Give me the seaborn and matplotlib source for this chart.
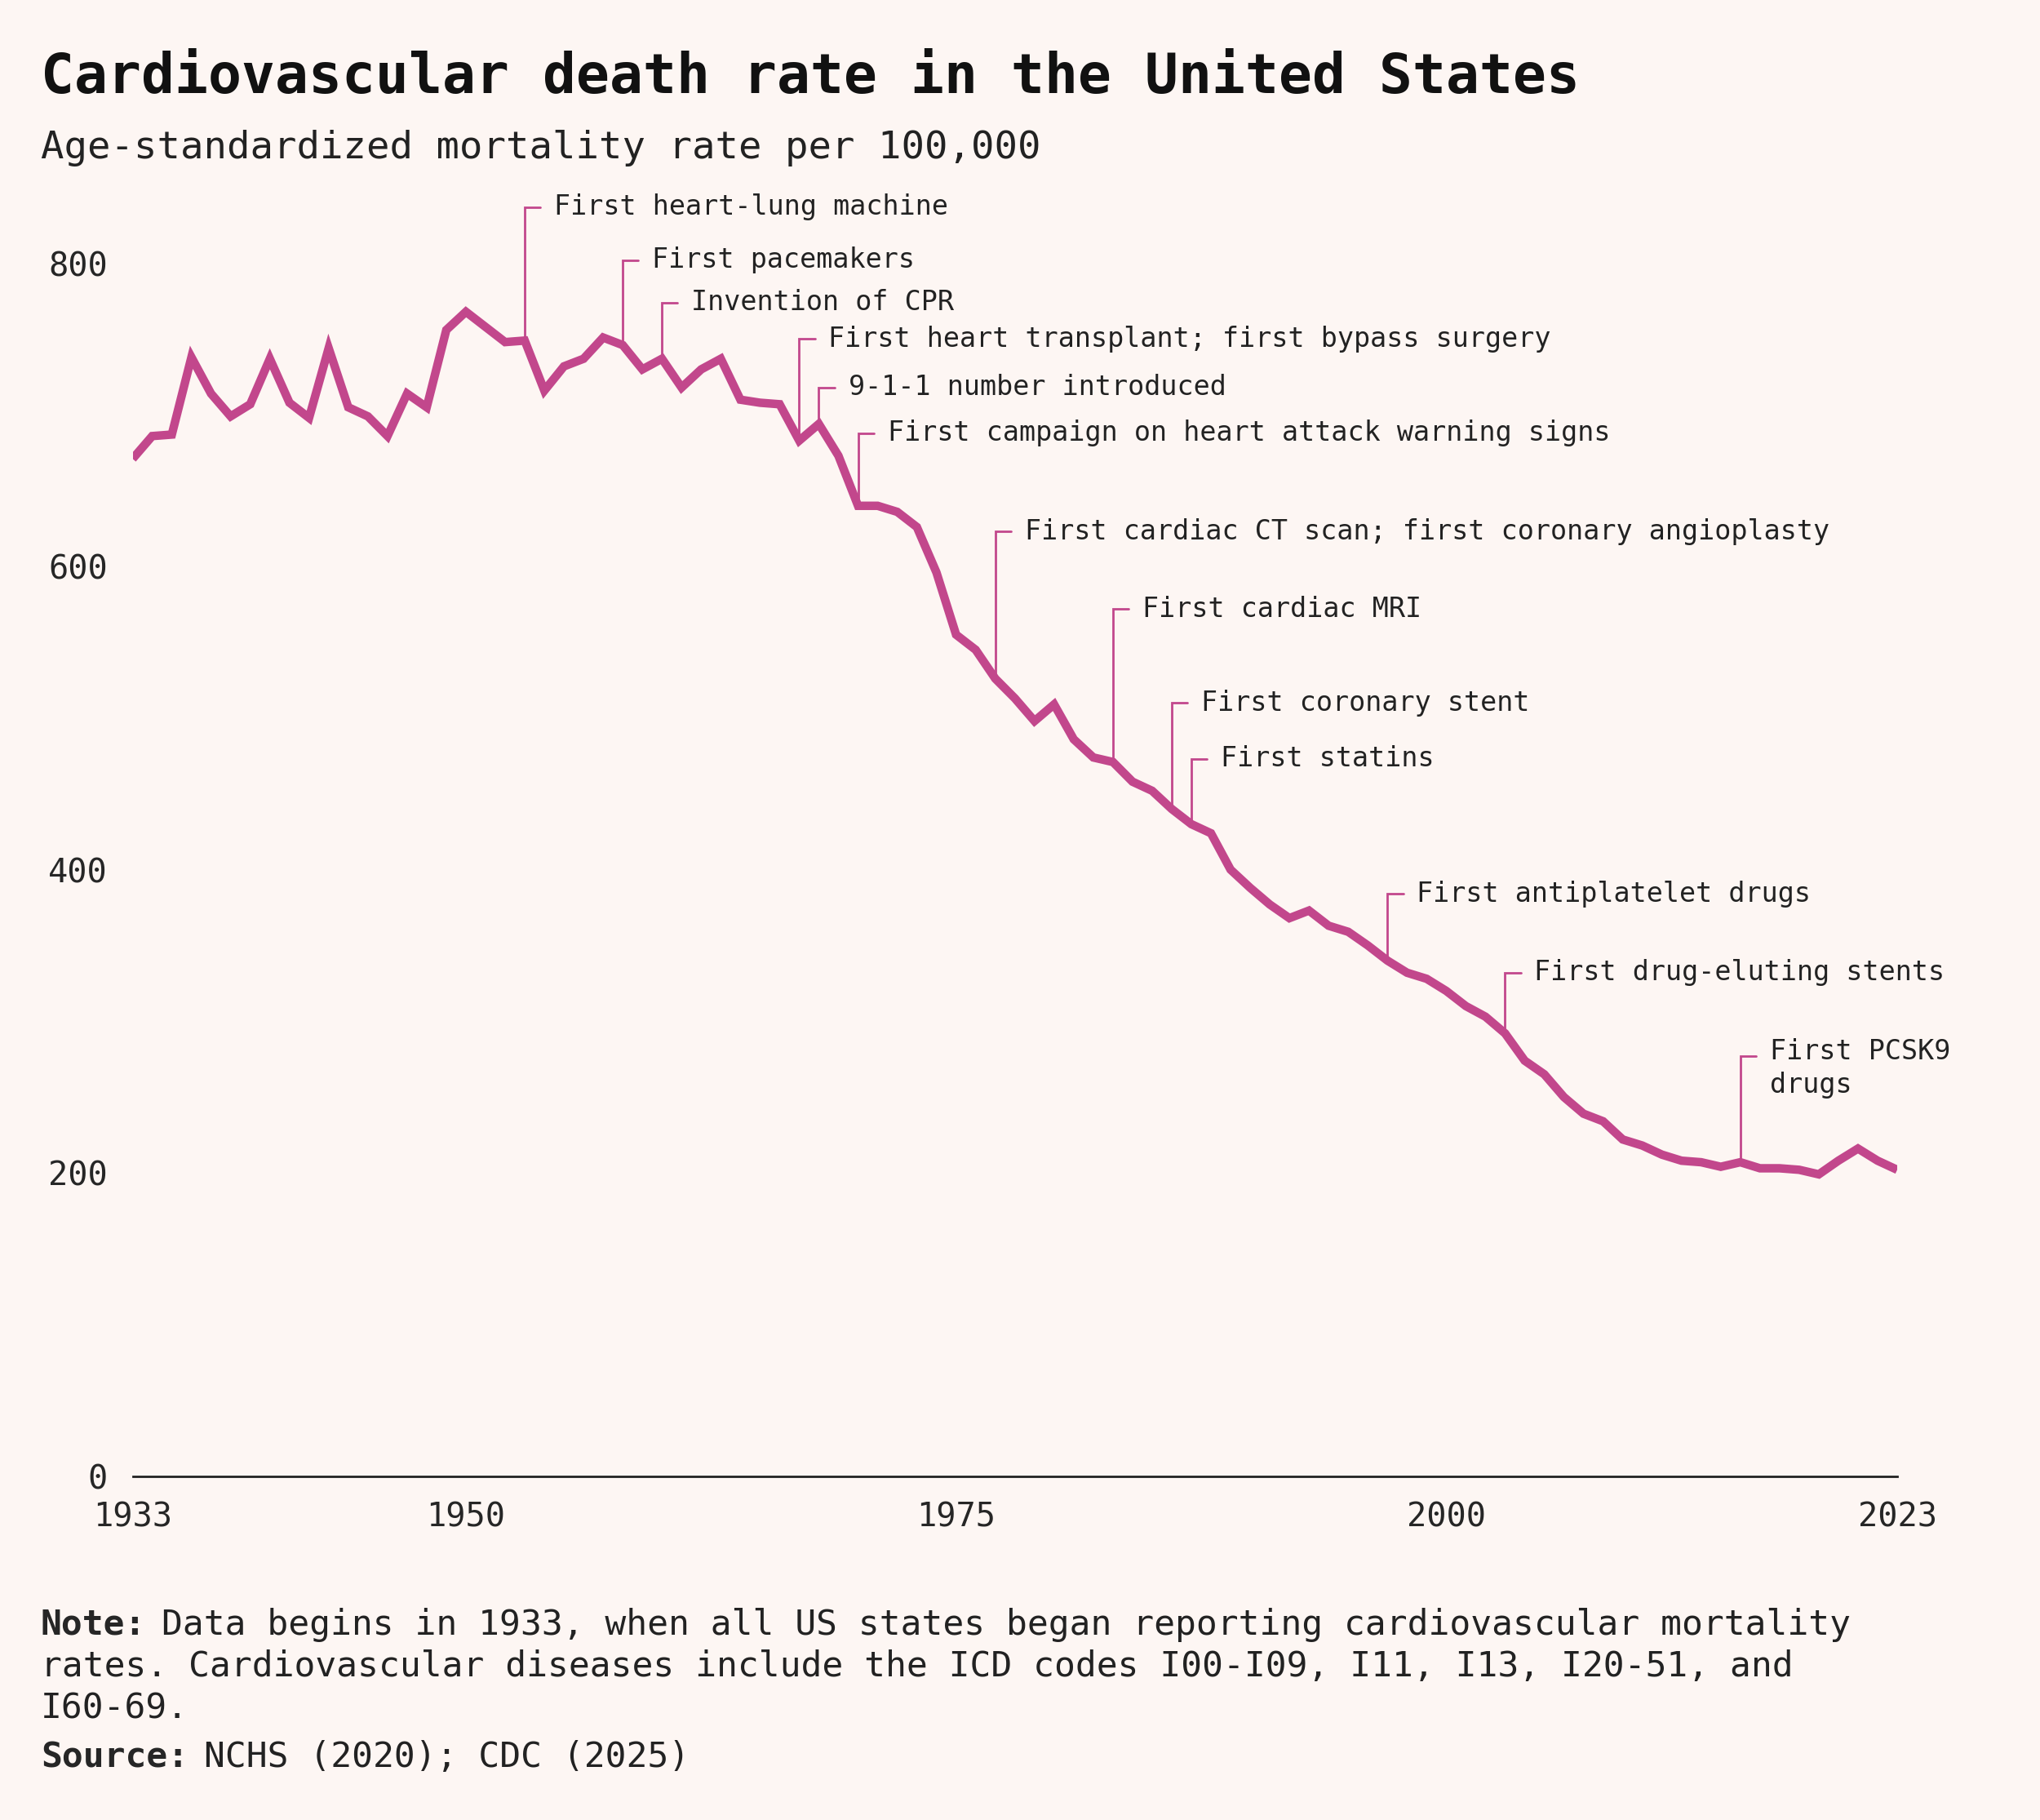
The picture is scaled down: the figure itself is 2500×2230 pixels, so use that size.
import matplotlib.pyplot as plt
import pandas as pd
import seaborn as sns

years = list(range(1933, 2024))
rates = [671, 686, 687, 738, 714, 699, 707, 737, 708, 698,
         744, 705, 699, 686, 714, 705, 756, 768, 758, 748,
         749, 716, 732, 737, 751, 746, 730, 737, 718, 730,
         737, 710, 708, 707, 683, 694, 673, 640, 640, 636,
         626, 596, 555, 545, 526, 513, 498, 509, 486, 474,
         471, 458, 452, 440, 430, 424, 400, 388, 377, 368,
         373, 363, 359, 350, 340, 332, 328, 320, 310, 303,
         292, 274, 265, 250, 239, 234, 222, 218, 212, 208,
         207, 204, 207, 203, 203, 202, 199, 208, 216, 208, 202]

event_years = [1953, 1958, 1960, 1967, 1968, 1970, 1977, 1983, 1986, 1987, 1997, 2003, 2015]
event_label_y = [837, 802, 774, 750, 718, 688, 623, 572, 510, 473, 384, 332, 277]
event_labels = [
    "First heart-lung machine",
    "First pacemakers",
    "Invention of CPR",
    "First heart transplant; first bypass surgery",
    "9-1-1 number introduced",
    "First campaign on heart attack warning signs",
    "First cardiac CT scan; first coronary angioplasty",
    "First cardiac MRI",
    "First coronary stent",
    "First statins",
    "First antiplatelet drugs",
    "First drug-eluting stents",
    "First PCSK9\ndrugs",
]

df = pd.DataFrame({"year": years, "rate": rates})
pink = "#c2478c"
bg = "#fdf6f3"
mono = "DejaVu Sans Mono"

sns.set_style("white")
plt.rcParams["font.family"] = [mono]
fig = plt.figure(figsize=(25, 22.3), dpi=100, facecolor=bg)
ax = fig.add_axes([0.065, 0.189, 0.865, 0.708])
ax.set_facecolor(bg)

sns.lineplot(data=df, x="year", y="rate", ax=ax, color=pink, linewidth=7.5,
             solid_joinstyle="miter", solid_capstyle="butt")

rate_by_year = dict(zip(years, rates))
for yr, ly, lab in zip(event_years, event_label_y, event_labels):
    ax.plot([yr, yr, yr + 0.8], [rate_by_year[yr], ly, ly], color=pink, lw=2,
            solid_joinstyle="miter", zorder=1)
    if "\n" in lab:
        ax.text(yr + 1.5, ly + 12, lab, fontsize=24, va="top",
                color="#222222", linespacing=1.3)
    else:
        ax.text(yr + 1.5, ly, lab, fontsize=24, va="center", color="#222222")

ax.set_xlim(1933, 2023)
ax.set_ylim(0, 850)
ax.set_xticks([1933, 1950, 1975, 2000, 2023])
ax.set_yticks([0, 200, 400, 600, 800])
ax.tick_params(axis="x", length=12, width=2, labelsize=29, pad=10, color="#222222")
ax.tick_params(axis="y", length=12, width=2, labelsize=29, pad=10, color="#222222")
ax.set_xlabel("")
ax.set_ylabel("")
for s in ["top", "right", "left"]:
    ax.spines[s].set_visible(False)
ax.spines["bottom"].set_linewidth(2)
ax.spines["bottom"].set_color("#222222")
ax.margins(x=0)

fig.text(0.02, 0.949, "Cardiovascular death rate in the United States",
         fontsize=49, fontweight="bold", va="baseline", color="#111111")
fig.text(0.02, 0.913, "Age-standardized mortality rate per 100,000",
         fontsize=34, va="baseline", color="#222222")

note_y = [0.102, 0.079, 0.056]
note_lines = [
    "Data begins in 1933, when all US states began reporting cardiovascular mortality",
    "rates. Cardiovascular diseases include the ICD codes I00-I09, I11, I13, I20-51, and",
    "I60-69.",
]
fs_note = 31
note = fig.text(0.02, note_y[0], "Note:", fontsize=fs_note, fontweight="bold", va="baseline")
fig.canvas.draw()
w = note.get_window_extent().width / fig.bbox.width
fig.text(0.02 + w + 0.0075, note_y[0], note_lines[0], fontsize=fs_note, va="baseline", color="#222222")
for y, line in zip(note_y[1:], note_lines[1:]):
    fig.text(0.02, y, line, fontsize=fs_note, va="baseline", color="#222222")
src = fig.text(0.02, 0.029, "Source:", fontsize=fs_note, fontweight="bold", va="baseline")
fig.canvas.draw()
w2 = src.get_window_extent().width / fig.bbox.width
fig.text(0.02 + w2 + 0.0075, 0.029, "NCHS (2020); CDC (2025)", fontsize=fs_note,
         va="baseline", color="#222222")

fig.savefig("out.png", dpi=100, facecolor=bg)
